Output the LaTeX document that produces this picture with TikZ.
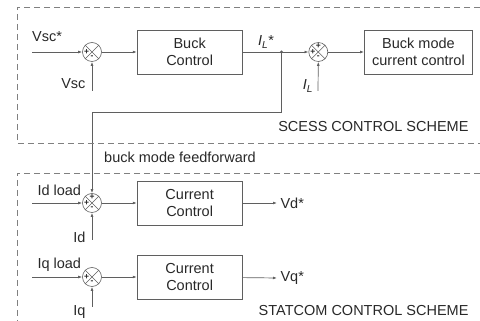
\documentclass[tikz,border=0pt]{standalone}
\usepackage{fontspec}
\setmainfont{Liberation Sans}
\usepackage{xcolor}
\usetikzlibrary{arrows.meta, positioning}

\definecolor{wiregray}{RGB}{95,95,95}
\definecolor{textgray}{RGB}{40,40,40}

\begin{document}
\begin{tikzpicture}[x=1pt, y=1pt, >={Latex[length=4pt,width=2.8pt]},
    font=\fontsize{14.5}{17.5}\selectfont, text=textgray]
    \tikzstyle{block} = [rectangle, draw=wiregray, line width=0.7pt, minimum width=105pt, minimum height=44pt, inner sep=0pt, align=center]
    \tikzstyle{sum} = [circle, draw=wiregray, line width=0.6pt, minimum size=19pt, inner sep=0pt]
    \tikzstyle{sgn} = [inner sep=0pt, font=\fontsize{8.5}{8.5}\selectfont\bfseries]
    \tikzstyle{wire} = [draw=wiregray, line width=0.7pt, ->]
    \tikzstyle{frame} = [draw=gray, line width=0.7pt, dash pattern=on 6pt off 4pt]

    \useasboundingbox (0,0) rectangle (480,321);

    % scess part
    \node [sum] (j1) at (92,269) {};
    \node [block, right=35pt of j1] (buck) {Buck\\Control};
    \coordinate [right=39pt of buck] (ilref);
    \node [sum, right=27pt of ilref] (j2) {};
    \node [block, minimum width=108pt, right=36pt of j2] (bmcc) {Buck mode\\current control};

    % statcom part
    \node [sum] (j3) at (92,118) {};
    \node [block, right=35pt of j3] (ccd) {Current\\Control};
    \node [sum] (j4) at (92,44) {};
    \node [block, right=35pt of j4] (ccq) {Current\\Control};

    % loose ends
    \coordinate (vscref) at (32,269);
    \coordinate (vscmeas) at (92,230);
    \coordinate (ilmeas) at (318,230);
    \coordinate (idload) at (32,118);
    \coordinate (idmeas) at (92,81);
    \coordinate (iqload) at (32,44);
    \coordinate (iqmeas) at (92,14);
    \coordinate (vdout) at (277,118);
    \coordinate (vqout) at (277,43);

    \path [wire] (vscref) -- (j1);
    \path [wire] (vscmeas) -- (j1);
    \path [wire] (j1) -- (buck);
    \path [draw=wiregray, line width=0.7pt] (buck) -- (ilref);
    \path [wire] (ilref) -- (j2);
    \path [wire] (ilmeas) -- (j2.south);
    \path [wire] (j2) -- (bmcc);
    \path [wire] (ilref) -- ++(0,-60) -| (j3.north);
    \fill [wiregray] (ilref) circle (1.7pt);

    \path [wire] (idload) -- (j3);
    \path [wire] (idmeas) -- (j3);
    \path [wire] (j3) -- (ccd);
    \path [wire] (ccd) -- (vdout);
    \path [wire] (iqload) -- (j4);
    \path [wire] (iqmeas) -- (j4);
    \path [wire] (j4) -- (ccq);
    \path [wire] (ccq) -- (vqout);

    % crosses and signs in the summing points
    \foreach \j in {j1,j2,j3,j4} {
        \draw [wiregray, line width=0.5pt] (\j.north west) -- (\j.south east) (\j.north east) -- (\j.south west);
        \node [sgn] at ([xshift=-5.5pt]\j.center) {+};
        \node [sgn] at ([yshift=-5.5pt]\j.center) {-};
    }
    \foreach \j in {j2,j3}
        \node [sgn] at ([yshift=5.5pt]\j.center) {+};

    % labels
    \node at (47,284) {Vsc*};
    \node [left] at (89,237) {Vsc};
    \node at (266,279) {\itshape I\textsubscript{L}\upshape*};
    \node at (308,235) {\itshape I\textsubscript{L}};
    \node [left] at (89,84) {Id};
    \node [left] at (89,9) {Iq};
    \node [right] at (34,131) {Id load};
    \node [right] at (34,56) {Iq load};
    \node [right] at (vdout) {Vd*};
    \node [right] at (vqout) {Vq*};
    \node at (180,164) {buck mode feedforward};
    \node [left] at (472,194) {SCESS CONTROL SCHEME};
    \node [left] at (472,10) {STATCOM CONTROL SCHEME};

    % dashed frames
    \draw [frame] (480,314) -- (17,314) -- (17,178) -- (480,178);
    \draw [frame] (480,148) -- (17,148) -- (17,0);
\end{tikzpicture}
\end{document}
